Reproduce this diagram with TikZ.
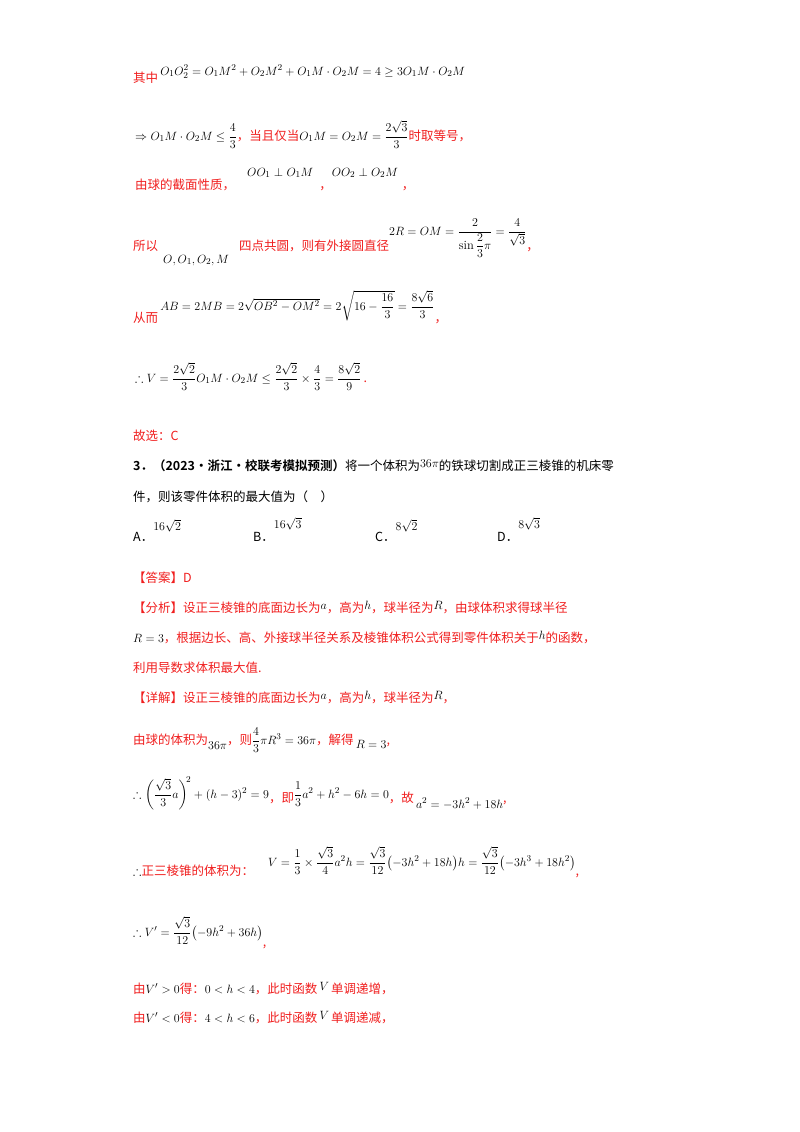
\documentclass[tikz,border=0pt]{standalone}
\usepackage{amsmath,amssymb}
\usepackage{fontspec}
\newfontfamily\cjk{Noto Sans CJK SC}
\newfontfamily\cjkb{Noto Sans CJK SC Bold}
\definecolor{rd}{RGB}{240,30,30}
\newcommand{\mk}[2][0pt]{\raisebox{#1}{\textcolor{black}{$#2$}}}
\begin{document}
\begin{tikzpicture}[x=1pt,y=-1pt,
  t/.style={anchor=base west,inner sep=0pt,font=\fontsize{12.5}{14}\selectfont\cjk},
  r/.style={t,text=rd}]
\useasboundingbox (0,0) rectangle (800,1132);
\node[r] (a1) at (133,82) {其中\,\mk[7pt]{O_1O_2^2=O_1M^2+O_2M^2+O_1M\cdot O_2M=4\geq 3O_1M\cdot O_2M}};
\node[r] (b1) at (135,140) {\mk{\Rightarrow O_1M\cdot O_2M\leq \dfrac{4}{3}}，当且仅当\mk{O_1M=O_2M=\dfrac{2\sqrt3}{3}}时取等号，};
\node[r] (c1) at (135,189) {由球的截面性质，\hspace{12pt}\mk[13pt]{OO_1\perp O_1M}\hspace{6pt}，\mk[13pt]{OO_2\perp O_2M}\hspace{4pt}，};
\node[r] (d1) at (133,250) {所以\hspace{5pt}\mk[-13pt]{O,O_1,O_2,M}\hspace{10pt}四点共圆，则有外接圆直径\mk[15pt]{2R=OM=\dfrac{2}{\sin\dfrac{2}{3}\pi}=\dfrac{4}{\sqrt3}}，};
\node[r] (e1) at (133,322) {从而\,\mk[12pt]{AB=2MB=2\sqrt{OB^2-OM^2}=2\sqrt{16-\dfrac{16}{3}}=\dfrac{8\sqrt6}{3}}，};
\node[r] (f1) at (135,382) {\mk{\therefore V=\dfrac{2\sqrt2}{3}O_1M\cdot O_2M\leq\dfrac{2\sqrt2}{3}\times\dfrac{4}{3}=\dfrac{8\sqrt2}{9}}\,.};
\node[r] (g1) at (133,440) {故选：C};
\node[t] (h1) at (133,470) {{\cjkb 3．（2023·浙江·校联考模拟预测）}将一个体积为\mk[3pt]{36\pi}的铁球切割成正三棱锥的机床零};
\node[t] (h3) at (133,501) {件，则该零件体积的最大值为（\quad ）};
\node[t] (i1) at (133,541) {A．\mk[11pt]{16\sqrt2}};
\node[t] (i3) at (253,541) {B．\mk[13pt]{16\sqrt3}};
\node[t] (i5) at (375,541) {C．\mk[11pt]{8\sqrt2}};
\node[t] (i7) at (497,541) {D．\mk[13pt]{8\sqrt3}};
\node[r] (j1) at (133,582) {【答案】D};
\node[r] (j2) at (133,612) {【分析】设正三棱锥的底面边长为\mk[3pt]{a}，高为\mk[3pt]{h}，球半径为\mk[3pt]{R}，由球体积求得球半径};
\node[r] (j3) at (133,642) {\mk{R=3}，根据边长、高、外接球半径关系及棱锥体积公式得到零件体积关于\mk[3pt]{h}的函数，};
\node[r] (j4) at (133,672) {利用导数求体积最大值.};
\node[r] (j5) at (133,702) {【详解】设正三棱锥的底面边长为\mk[3pt]{a}，高为\mk[3pt]{h}，球半径为\mk[3pt]{R}，};
\node[r] (k1) at (133,744) {由球的体积为\mk[-5pt]{36\pi}，则\mk{\dfrac{4}{3}\pi R^3=36\pi}，解得\,\mk[-4pt]{R=3},};
\node[r] (l1) at (133,802) {\mk[4pt]{\therefore\left(\dfrac{\sqrt3}{3}a\right)^{\!2}+(h-3)^2=9}，即\mk[4pt]{\dfrac{1}{3}a^2+h^2-6h=0}，故\,\mk[-6pt]{a^2=-3h^2+18h},};
\node[r] (n1) at (133,875) {\mk{\therefore}正三棱锥的体积为：\hspace{14pt}\mk[9pt]{V=\dfrac13\times\dfrac{\sqrt3}{4}a^2h=\dfrac{\sqrt3}{12}\bigl(-3h^2+18h\bigr)h=\dfrac{\sqrt3}{12}\bigl(-3h^3+18h^2\bigr)},};
\node[r] (o1) at (133,946) {\mk[10pt]{\therefore V'=\dfrac{\sqrt3}{12}\bigl(-9h^2+36h\bigr)},};
\node[r] (p1) at (133,993) {由\mk{V'>0}得：\mk{0<h<4}，此时函数\,\mk[3pt]{V}\,单调递增，};
\node[r] (q1) at (133,1022) {由\mk{V'<0}得：\mk{4<h<6}，此时函数\,\mk[3pt]{V}\,单调递减，};
\end{tikzpicture}
\end{document}
